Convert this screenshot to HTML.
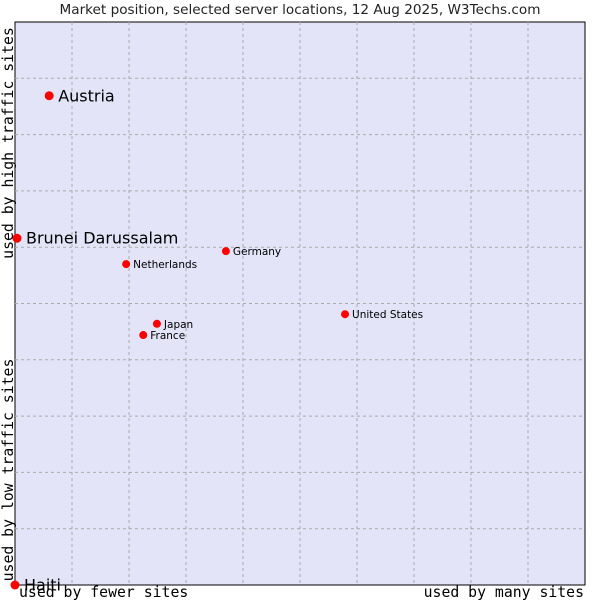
<!DOCTYPE html>
<html><head><meta charset="utf-8"><style>
body{margin:0;background:#fff;}
svg{display:block;}
</style></head><body>
<svg id="chart" width="600" height="600" xmlns="http://www.w3.org/2000/svg">
<text x="300" y="14" text-anchor="middle" font-family="DejaVu Sans, sans-serif" font-size="13.6" fill="#222">Market position, selected server locations, 12 Aug 2025, W3Techs.com</text>
<rect x="15" y="22" width="570" height="563" fill="#e3e4f8" stroke="#000" stroke-width="1"/>
<g id="grid"></g>
<g id="points"></g>
<text transform="translate(13,143) rotate(-90)" text-anchor="middle" font-family="DejaVu Sans Mono, monospace" font-size="14.8" fill="#000">used by high traffic sites</text>
<text transform="translate(13,470) rotate(-90)" text-anchor="middle" font-family="DejaVu Sans Mono, monospace" font-size="14.8" fill="#000">used by low traffic sites</text>
<text x="19" y="597" font-family="DejaVu Sans Mono, monospace" font-size="14.8" fill="#000">used by fewer sites</text>
<text x="584" y="597" text-anchor="end" font-family="DejaVu Sans Mono, monospace" font-size="14.8" fill="#000">used by many sites</text>
</svg>
<script>
const names=["Austria","Brunei Darussalam","Netherlands","Germany","United States","Japan","France","Haiti"];
const xVals=[6.0,0.35,19.5,37.0,57.9,24.9,22.5,0];
const yVals=[86.9,61.6,57.0,59.3,48.1,46.4,44.4,0];
const big=[true,true,false,false,false,false,false,true];
const L=15,R=585,T=22,B=585;
const xs=v=>L+v/100*(R-L);
const ys=v=>B-v/100*(B-T);
const NS="http://www.w3.org/2000/svg";
const grid=document.getElementById('grid');
for(let i=1;i<10;i++){
  const gx=xs(i*10);
  const l=document.createElementNS(NS,'line');
  
  
  l.setAttribute('x1',gx);l.setAttribute('x2',gx);l.setAttribute('y1',T);l.setAttribute('y2',B);
  l.setAttribute('stroke','#aaa');l.setAttribute('stroke-dasharray','3,3');
  grid.appendChild(l);
  const gy=ys(i*10);
  const h=document.createElementNS(NS,'line');
  
  
  h.setAttribute('x1',L);h.setAttribute('x2',R);h.setAttribute('y1',gy);h.setAttribute('y2',gy);
  h.setAttribute('stroke','#aaa');h.setAttribute('stroke-dasharray','3,3');
  grid.appendChild(h);
}
const pts=document.getElementById('points');
names.forEach((n,i)=>{
  const cx=xs(xVals[i]),cy=ys(yVals[i]);
  const c=document.createElementNS(NS,'circle');
  
  
  c.setAttribute('cx',cx);c.setAttribute('cy',cy);c.setAttribute('r',big[i]?4.5:4);
  c.setAttribute('fill','#f00');
  pts.appendChild(c);
  const t=document.createElementNS(NS,'text');
  
  
  t.setAttribute('x',cx+(big[i]?9:7));t.setAttribute('y',cy+(big[i]?5.5:4));
  t.setAttribute('font-family','DejaVu Sans, sans-serif');
  t.setAttribute('font-size',big[i]?16:10.5);
  t.setAttribute('fill','#000');
  t.textContent=n;
  pts.appendChild(t);
});
</script>
</body></html>
